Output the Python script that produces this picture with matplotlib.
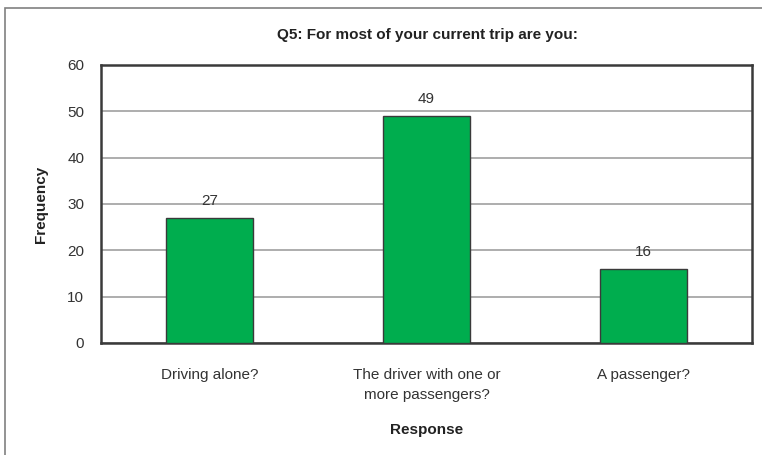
import matplotlib.pyplot as plt
from matplotlib.patches import Rectangle

plt.rcParams['font.family'] = ['Liberation Sans', 'DejaVu Sans']

categories = ['Driving alone?', 'The driver with one or\nmore passengers?', 'A passenger?']
counts = [27, 49, 16]
yticks = [0, 10, 20, 30, 40, 50, 60]

fig = plt.figure(figsize=(7.62, 4.55), dpi=100)
ax = fig.add_axes([101 / 762, 1 - 343 / 455, 651 / 762, 278 / 455])

# outer frame around the chart area
fig.patches.append(Rectangle((5 / 762, -0.1), 1.0, 1 - 8 / 455 + 0.1,
                             transform=fig.transFigure, fill=False,
                             edgecolor='#808080', linewidth=1.2))

x = range(len(categories))
bars = ax.bar(x, counts, width=0.405, color='#00AD4E', edgecolor='#3a3a3a',
              linewidth=1.0, zorder=3)
for xi, c in zip(x, counts):
    ax.text(xi, c + 2.1, str(c), ha='center', va='bottom', fontsize=11,
            color='#333333')

ax.set_xlim(-0.5, 2.5)
ax.set_ylim(0, 60)
ax.set_yticks(yticks)
ax.set_xticks(list(x))
ax.set_xticklabels(categories, fontsize=11, color='#333333', linespacing=1.55)
ax.tick_params(axis='y', length=0, pad=12, labelsize=11, labelcolor='#333333')
ax.tick_params(axis='x', length=0, pad=18)
ax.yaxis.grid(True, color='#a0a0a0', linewidth=1.2, zorder=0)
ax.set_axisbelow(True)
for s in ax.spines.values():
    s.set_color('#3a3a3a')
    s.set_linewidth(1.8)

ax.set_ylabel('Frequency', fontsize=11, fontweight='bold', color='#222222',
              labelpad=14)
ax.set_xlabel('Response', fontsize=11, fontweight='bold', color='#222222',
              labelpad=15)
fig.text(427 / 762, 1 - 35 / 455, 'Q5: For most of your current trip are you:',
         ha='center', va='center', fontsize=11, fontweight='bold',
         color='#222222')

fig.savefig('out.png', dpi=100)
